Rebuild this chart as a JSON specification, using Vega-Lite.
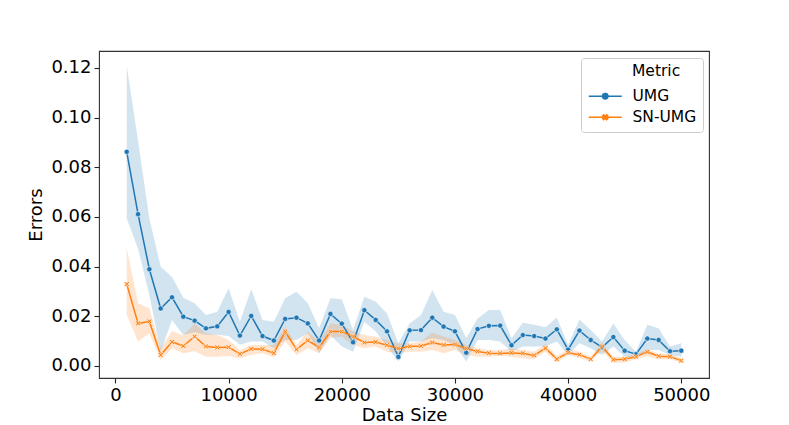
{
  "$schema": "https://vega.github.io/schema/vega-lite/v6.json",
  "background": "white",
  "autosize": {"type": "none"},
  "padding": {"left": 99, "top": 51, "right": 80, "bottom": 47},
  "width": 610,
  "height": 327,
  "data": {
    "values": [
      {"size": 1000, "metric": "UMG", "value": 0.0862, "lo": 0.0593, "hi": 0.1208},
      {"size": 2000, "metric": "UMG", "value": 0.0611, "lo": 0.0472, "hi": 0.0907},
      {"size": 3000, "metric": "UMG", "value": 0.0389, "lo": 0.0285, "hi": 0.0593},
      {"size": 4000, "metric": "UMG", "value": 0.0231, "lo": 0.0057, "hi": 0.0399},
      {"size": 5000, "metric": "UMG", "value": 0.0276, "lo": 0.0185, "hi": 0.0358},
      {"size": 6000, "metric": "UMG", "value": 0.0198, "lo": 0.0124, "hi": 0.0274},
      {"size": 7000, "metric": "UMG", "value": 0.0182, "lo": 0.0135, "hi": 0.0252},
      {"size": 8000, "metric": "UMG", "value": 0.0151, "lo": 0.0125, "hi": 0.0205},
      {"size": 9000, "metric": "UMG", "value": 0.0159, "lo": 0.0125, "hi": 0.0218},
      {"size": 10000, "metric": "UMG", "value": 0.0217, "lo": 0.0120, "hi": 0.0312},
      {"size": 11000, "metric": "UMG", "value": 0.0122, "lo": 0.0085, "hi": 0.0178},
      {"size": 12000, "metric": "UMG", "value": 0.0201, "lo": 0.0098, "hi": 0.0308},
      {"size": 13000, "metric": "UMG", "value": 0.0120, "lo": 0.0098, "hi": 0.0185},
      {"size": 14000, "metric": "UMG", "value": 0.0102, "lo": 0.0071, "hi": 0.0178},
      {"size": 15000, "metric": "UMG", "value": 0.0189, "lo": 0.0104, "hi": 0.0272},
      {"size": 16000, "metric": "UMG", "value": 0.0194, "lo": 0.0104, "hi": 0.0298},
      {"size": 17000, "metric": "UMG", "value": 0.0171, "lo": 0.0131, "hi": 0.0252},
      {"size": 18000, "metric": "UMG", "value": 0.0102, "lo": 0.0051, "hi": 0.0151},
      {"size": 19000, "metric": "UMG", "value": 0.0209, "lo": 0.0124, "hi": 0.0272},
      {"size": 20000, "metric": "UMG", "value": 0.0170, "lo": 0.0078, "hi": 0.0268},
      {"size": 21000, "metric": "UMG", "value": 0.0095, "lo": 0.0057, "hi": 0.0144},
      {"size": 22000, "metric": "UMG", "value": 0.0224, "lo": 0.0178, "hi": 0.0278},
      {"size": 23000, "metric": "UMG", "value": 0.0185, "lo": 0.0138, "hi": 0.0258},
      {"size": 24000, "metric": "UMG", "value": 0.0139, "lo": 0.0078, "hi": 0.0211},
      {"size": 25000, "metric": "UMG", "value": 0.0036, "lo": 0.0017, "hi": 0.0091},
      {"size": 26000, "metric": "UMG", "value": 0.0143, "lo": 0.0098, "hi": 0.0171},
      {"size": 27000, "metric": "UMG", "value": 0.0144, "lo": 0.0098, "hi": 0.0205},
      {"size": 28000, "metric": "UMG", "value": 0.0194, "lo": 0.0111, "hi": 0.0305},
      {"size": 29000, "metric": "UMG", "value": 0.0158, "lo": 0.0104, "hi": 0.0218},
      {"size": 30000, "metric": "UMG", "value": 0.0139, "lo": 0.0084, "hi": 0.0205},
      {"size": 31000, "metric": "UMG", "value": 0.0053, "lo": 0.0017, "hi": 0.0111},
      {"size": 32000, "metric": "UMG", "value": 0.0148, "lo": 0.0104, "hi": 0.0191},
      {"size": 33000, "metric": "UMG", "value": 0.0161, "lo": 0.0104, "hi": 0.0225},
      {"size": 34000, "metric": "UMG", "value": 0.0162, "lo": 0.0098, "hi": 0.0225},
      {"size": 35000, "metric": "UMG", "value": 0.0083, "lo": 0.0057, "hi": 0.0111},
      {"size": 36000, "metric": "UMG", "value": 0.0124, "lo": 0.0078, "hi": 0.0174},
      {"size": 37000, "metric": "UMG", "value": 0.0120, "lo": 0.0078, "hi": 0.0165},
      {"size": 38000, "metric": "UMG", "value": 0.0110, "lo": 0.0078, "hi": 0.0155},
      {"size": 39000, "metric": "UMG", "value": 0.0147, "lo": 0.0098, "hi": 0.0195},
      {"size": 40000, "metric": "UMG", "value": 0.0065, "lo": 0.0044, "hi": 0.0084},
      {"size": 41000, "metric": "UMG", "value": 0.0142, "lo": 0.0091, "hi": 0.0187},
      {"size": 42000, "metric": "UMG", "value": 0.0104, "lo": 0.0071, "hi": 0.0144},
      {"size": 43000, "metric": "UMG", "value": 0.0075, "lo": 0.0044, "hi": 0.0098},
      {"size": 44000, "metric": "UMG", "value": 0.0116, "lo": 0.0078, "hi": 0.0171},
      {"size": 45000, "metric": "UMG", "value": 0.0061, "lo": 0.0037, "hi": 0.0104},
      {"size": 46000, "metric": "UMG", "value": 0.0047, "lo": 0.0031, "hi": 0.0057},
      {"size": 47000, "metric": "UMG", "value": 0.0110, "lo": 0.0064, "hi": 0.0165},
      {"size": 48000, "metric": "UMG", "value": 0.0104, "lo": 0.0064, "hi": 0.0151},
      {"size": 49000, "metric": "UMG", "value": 0.0059, "lo": 0.0044, "hi": 0.0078},
      {"size": 50000, "metric": "UMG", "value": 0.0061, "lo": 0.0037, "hi": 0.0091},
      {"size": 1000, "metric": "SN-UMG", "value": 0.0329, "lo": 0.0205, "hi": 0.0475},
      {"size": 2000, "metric": "SN-UMG", "value": 0.0171, "lo": 0.0098, "hi": 0.0252},
      {"size": 3000, "metric": "SN-UMG", "value": 0.0179, "lo": 0.0131, "hi": 0.0232},
      {"size": 4000, "metric": "SN-UMG", "value": 0.0044, "lo": 0.0024, "hi": 0.0071},
      {"size": 5000, "metric": "SN-UMG", "value": 0.0096, "lo": 0.0071, "hi": 0.0140},
      {"size": 6000, "metric": "SN-UMG", "value": 0.0080, "lo": 0.0051, "hi": 0.0122},
      {"size": 7000, "metric": "SN-UMG", "value": 0.0118, "lo": 0.0059, "hi": 0.0171},
      {"size": 8000, "metric": "SN-UMG", "value": 0.0078, "lo": 0.0037, "hi": 0.0131},
      {"size": 9000, "metric": "SN-UMG", "value": 0.0074, "lo": 0.0037, "hi": 0.0124},
      {"size": 10000, "metric": "SN-UMG", "value": 0.0075, "lo": 0.0040, "hi": 0.0104},
      {"size": 11000, "metric": "SN-UMG", "value": 0.0048, "lo": 0.0031, "hi": 0.0064},
      {"size": 12000, "metric": "SN-UMG", "value": 0.0068, "lo": 0.0044, "hi": 0.0084},
      {"size": 13000, "metric": "SN-UMG", "value": 0.0067, "lo": 0.0051, "hi": 0.0084},
      {"size": 14000, "metric": "SN-UMG", "value": 0.0051, "lo": 0.0035, "hi": 0.0084},
      {"size": 15000, "metric": "SN-UMG", "value": 0.0138, "lo": 0.0098, "hi": 0.0158},
      {"size": 16000, "metric": "SN-UMG", "value": 0.0066, "lo": 0.0044, "hi": 0.0084},
      {"size": 17000, "metric": "SN-UMG", "value": 0.0102, "lo": 0.0071, "hi": 0.0138},
      {"size": 18000, "metric": "SN-UMG", "value": 0.0074, "lo": 0.0051, "hi": 0.0098},
      {"size": 19000, "metric": "SN-UMG", "value": 0.0138, "lo": 0.0111, "hi": 0.0171},
      {"size": 20000, "metric": "SN-UMG", "value": 0.0138, "lo": 0.0118, "hi": 0.0165},
      {"size": 21000, "metric": "SN-UMG", "value": 0.0118, "lo": 0.0084, "hi": 0.0138},
      {"size": 22000, "metric": "SN-UMG", "value": 0.0094, "lo": 0.0071, "hi": 0.0124},
      {"size": 23000, "metric": "SN-UMG", "value": 0.0096, "lo": 0.0078, "hi": 0.0118},
      {"size": 24000, "metric": "SN-UMG", "value": 0.0083, "lo": 0.0057, "hi": 0.0104},
      {"size": 25000, "metric": "SN-UMG", "value": 0.0070, "lo": 0.0051, "hi": 0.0090},
      {"size": 26000, "metric": "SN-UMG", "value": 0.0078, "lo": 0.0057, "hi": 0.0091},
      {"size": 27000, "metric": "SN-UMG", "value": 0.0080, "lo": 0.0057, "hi": 0.0098},
      {"size": 28000, "metric": "SN-UMG", "value": 0.0094, "lo": 0.0064, "hi": 0.0134},
      {"size": 29000, "metric": "SN-UMG", "value": 0.0084, "lo": 0.0051, "hi": 0.0118},
      {"size": 30000, "metric": "SN-UMG", "value": 0.0086, "lo": 0.0064, "hi": 0.0104},
      {"size": 31000, "metric": "SN-UMG", "value": 0.0070, "lo": 0.0044, "hi": 0.0084},
      {"size": 32000, "metric": "SN-UMG", "value": 0.0058, "lo": 0.0037, "hi": 0.0071},
      {"size": 33000, "metric": "SN-UMG", "value": 0.0051, "lo": 0.0037, "hi": 0.0064},
      {"size": 34000, "metric": "SN-UMG", "value": 0.0050, "lo": 0.0040, "hi": 0.0064},
      {"size": 35000, "metric": "SN-UMG", "value": 0.0052, "lo": 0.0037, "hi": 0.0071},
      {"size": 36000, "metric": "SN-UMG", "value": 0.0050, "lo": 0.0031, "hi": 0.0064},
      {"size": 37000, "metric": "SN-UMG", "value": 0.0042, "lo": 0.0027, "hi": 0.0057},
      {"size": 38000, "metric": "SN-UMG", "value": 0.0071, "lo": 0.0057, "hi": 0.0088},
      {"size": 39000, "metric": "SN-UMG", "value": 0.0027, "lo": 0.0013, "hi": 0.0040},
      {"size": 40000, "metric": "SN-UMG", "value": 0.0053, "lo": 0.0044, "hi": 0.0067},
      {"size": 41000, "metric": "SN-UMG", "value": 0.0045, "lo": 0.0031, "hi": 0.0057},
      {"size": 42000, "metric": "SN-UMG", "value": 0.0027, "lo": 0.0017, "hi": 0.0037},
      {"size": 43000, "metric": "SN-UMG", "value": 0.0078, "lo": 0.0061, "hi": 0.0094},
      {"size": 44000, "metric": "SN-UMG", "value": 0.0025, "lo": 0.0011, "hi": 0.0037},
      {"size": 45000, "metric": "SN-UMG", "value": 0.0027, "lo": 0.0013, "hi": 0.0037},
      {"size": 46000, "metric": "SN-UMG", "value": 0.0037, "lo": 0.0027, "hi": 0.0048},
      {"size": 47000, "metric": "SN-UMG", "value": 0.0056, "lo": 0.0040, "hi": 0.0067},
      {"size": 48000, "metric": "SN-UMG", "value": 0.0039, "lo": 0.0027, "hi": 0.0048},
      {"size": 49000, "metric": "SN-UMG", "value": 0.0037, "lo": 0.0027, "hi": 0.0048},
      {"size": 50000, "metric": "SN-UMG", "value": 0.0021, "lo": 0.0013, "hi": 0.0031}
    ]
  },
  "encoding": {
    "x": {
      "field": "size",
      "type": "quantitative",
      "title": "Data Size",
      "scale": {"domain": [-1450, 52450], "nice": false, "zero": false},
      "axis": {"values": [0, 10000, 20000, 30000, 40000, 50000], "format": "d"}
    },
    "color": {
      "field": "metric",
      "type": "nominal",
      "title": "Metric",
      "sort": ["UMG", "SN-UMG"],
      "scale": {"domain": ["UMG", "SN-UMG"], "range": ["#1f77b4", "#ff7f0e"]},
      "legend": {
        "orient": "none",
        "legendX": 482,
        "legendY": 7,
        "symbolSize": 100,
        "symbolStrokeWidth": 1.5,
        "labelOffset": 30,
        "rowPadding": 4,
        "titlePadding": 9,
        "padding": 6,
        "encode": {
          "title": {"update": {"dx": {"value": 45}}},
          "symbols": {
            "update": {
              "fill": {"scale": "color", "field": "value"},
              "stroke": {"scale": "color", "field": "value"},
              "opacity": {"value": 1},
              "fillOpacity": {"value": 1},
              "strokeOpacity": {"value": 1},
              "shape": {"signal": "datum.value === 'UMG' ? 'M-1.2,0H5.4M1.56,0A0.54,0.54 0 1,0 2.64,0A0.54,0.54 0 1,0 1.56,0Z' : 'M-1.2,0H5.4M1.6,-0.3L1.8,-0.5L2.1,-0.2L2.4,-0.5L2.6,-0.3L2.3,0L2.6,0.3L2.4,0.5L2.1,0.2L1.8,0.5L1.6,0.3L1.9,0Z'"}
            }
          }
        }
      }
    }
  },
  "layer": [
    {
      "mark": {"type": "area", "opacity": 0.2},
      "encoding": {
        "y": {
          "field": "lo",
          "type": "quantitative",
          "title": "Errors",
          "scale": {"domain": [-0.0049, 0.1268], "nice": false, "zero": false},
          "axis": {"values": [0, 0.02, 0.04, 0.06, 0.08, 0.1, 0.12], "format": ".2f"}
        },
        "y2": {"field": "hi"}
      }
    },
    {
      "mark": {"type": "line", "strokeWidth": 1.5},
      "encoding": {
        "y": {"field": "value", "type": "quantitative"}
      }
    },
    {
      "transform": [{"filter": "datum.metric === 'UMG'"}],
      "mark": {"type": "point", "shape": "circle", "filled": true, "opacity": 1, "stroke": "white", "strokeWidth": 0.6, "size": 28},
      "encoding": {
        "y": {"field": "value", "type": "quantitative"}
      }
    },
    {
      "transform": [{"filter": "datum.metric === 'SN-UMG'"}],
      "mark": {"type": "point", "shape": "M-1,-0.6L-0.6,-1L0,-0.4L0.6,-1L1,-0.6L0.4,0L1,0.6L0.6,1L0,0.4L-0.6,1L-1,0.6L-0.4,0Z", "filled": true, "opacity": 1, "stroke": "white", "strokeWidth": 0.6, "size": 28},
      "encoding": {
        "y": {"field": "value", "type": "quantitative"}
      }
    }
  ],
  "config": {
    "font": "DejaVu Sans",
    "view": {"stroke": "#333333", "strokeWidth": 1.1},
    "axis": {
      "grid": false,
      "domain": false,
      "tickColor": "#222222",
      "tickSize": 5,
      "tickWidth": 1.1,
      "labelFont": "DejaVu Sans",
      "labelFontSize": 18,
      "labelColor": "#000000",
      "titleFont": "DejaVu Sans",
      "titleFontSize": 18,
      "titleFontWeight": "normal",
      "titleColor": "#000000",
      "labelPadding": 3
    },
    "axisX": {"titlePadding": 2},
    "axisY": {"titlePadding": 5},
    "legend": {
      "fillColor": "rgba(255,255,255,0.8)",
      "strokeColor": "#cccccc",
      "cornerRadius": 3,
      "labelFont": "DejaVu Sans",
      "labelFontSize": 15.5,
      "labelColor": "#000000",
      "titleFont": "DejaVu Sans",
      "titleFontSize": 15.5,
      "titleFontWeight": "normal",
      "titleColor": "#000000"
    }
  }
}
